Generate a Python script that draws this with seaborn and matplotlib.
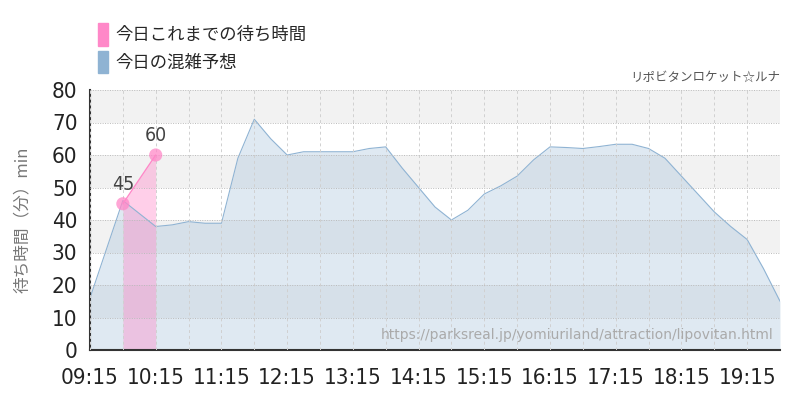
import pandas as pd
import matplotlib
matplotlib.use('Agg')
import matplotlib.pyplot as plt
import matplotlib.dates as mdates
import matplotlib.ticker as mticker
from matplotlib import font_manager
from matplotlib.patches import Patch
import seaborn as sns

# forecast (blue) every 15 minutes
times = ['09:15', '09:30', '09:45', '10:00', '10:15', '10:30', '10:45', '11:00',
         '11:15', '11:30', '11:45', '12:00', '12:15', '12:30', '12:45', '13:00',
         '13:15', '13:30', '13:45', '14:00', '14:15', '14:30', '14:45', '15:00',
         '15:15', '15:30', '15:45', '16:00', '16:15', '16:30', '16:45', '17:00',
         '17:15', '17:30', '17:45', '18:00', '18:15', '18:30', '18:45', '19:00',
         '19:15', '19:30', '19:45']
forecast = [16, 31, 46, 42, 38, 38.5, 39.5, 39,
            39, 59, 71, 65, 60, 61, 61, 61,
            61, 62, 62.5, 56, 50, 44, 40, 43,
            48, 50.5, 53.5, 58.5, 62.5, 62.3, 62, 62.6,
            63.3, 63.3, 62, 59, 53.5, 48, 42.5, 38,
            34, 25, 15]

# today's actual waits (pink)
actual_times = ['09:45', '10:15']
actual = [45, 60]

series_names = ['今日これまでの待ち時間', '今日の混雑予想']
ride_name = 'リポビタンロケット☆ルナ'
y_label = '待ち時間（分）min'
source_url = 'https://parksreal.jp/yomiuriland/attraction/lipovitan.html'

pink = '#ff88c8'
blue = '#8fb3d3'

# look for a condensed face for the numbers
num_prop = None
for f in font_manager.fontManager.ttflist:
    n = (f.name + ' ' + f.fname).lower()
    if ('condensed' in n or 'narrow' in n) and 'bold' not in n and 'italic' not in n \
            and 'oblique' not in n and 'light' not in n:
        num_prop = font_manager.FontProperties(fname=f.fname)
        break
if num_prop is None:
    num_prop = font_manager.FontProperties(family=['Roboto', 'DejaVu Sans'])

day = '2024-01-01 '
fc = pd.DataFrame({'t': pd.to_datetime([day + t for t in times]), 'wait': forecast})
ac = pd.DataFrame({'t': pd.to_datetime([day + t for t in actual_times]), 'wait': actual})

sns.set_style('white')
jp_fonts = ['Noto Sans CJK JP', 'DejaVu Sans']
plt.rcParams['font.family'] = jp_fonts

fig = plt.figure(figsize=(8, 4), dpi=100)
ax = fig.add_axes([0.1125, 0.125, 0.8625, 0.65])

# alternating bands
for lo in [10, 30, 50, 70]:
    ax.axhspan(lo, lo + 10, color='#f2f2f2', zorder=0, lw=0)

ax.fill_between(fc['t'], fc['wait'], 0, color=blue, alpha=0.28, lw=0, zorder=1)
sns.lineplot(data=fc, x='t', y='wait', ax=ax, color=blue, lw=0.8, zorder=2)

ax.fill_between(ac['t'], ac['wait'], 0, color=pink, alpha=0.4, lw=0, zorder=1.5)
sns.lineplot(data=ac, x='t', y='wait', ax=ax, color=pink, lw=1, zorder=3)
sns.scatterplot(data=ac, x='t', y='wait', ax=ax, color=pink, s=90, alpha=0.75,
                edgecolor='none', zorder=4)
for t, v in zip(ac['t'], ac['wait']):
    ax.annotate(str(v), (t, v), xytext=(0, 7), textcoords='offset points',
                ha='center', va='bottom', fontproperties=num_prop, fontsize=14,
                color='#444')

ax.set_xlim(fc['t'].iloc[0], fc['t'].iloc[-1])
ax.set_ylim(0, 80)
ax.yaxis.set_major_locator(mticker.MultipleLocator(10))
ax.xaxis.set_major_locator(mdates.MinuteLocator(byminute=[15]))
ax.xaxis.set_minor_locator(mdates.MinuteLocator(byminute=[45]))
ax.xaxis.set_major_formatter(mdates.DateFormatter('%H:%M'))

ax.set_axisbelow(False)
ax.grid(axis='y', which='major', color='#bbbbbb', ls=(0, (1, 1.5)), lw=0.7)
ax.grid(axis='x', which='both', color='#d0d0d0', ls=(0, (3, 3)), lw=0.7)

for lab in ax.get_xticklabels() + ax.get_yticklabels():
    lab.set_fontproperties(num_prop)
    lab.set_fontsize(16)
    lab.set_color('#222')
ax.tick_params(axis='both', which='major', length=7, color='#bbbbbb', width=1,
               direction='out', pad=2)
ax.tick_params(axis='x', which='major', pad=6)
ax.tick_params(axis='x', which='minor', length=0)

for s in ['top', 'right']:
    ax.spines[s].set_visible(False)
for s in ['left', 'bottom']:
    ax.spines[s].set_color('#333')
    ax.spines[s].set_linewidth(1.5)

ax.set_xlabel('')
ax.set_ylabel(y_label, fontsize=12, color='#777')
ax.yaxis.set_label_coords(-0.085, 0.5)

ax.text(0.99, 0.03, source_url, transform=ax.transAxes, ha='right', va='bottom',
        fontsize=10, color='#aaaaaa', family=['DejaVu Sans'], zorder=5)
fig.text(0.975, 0.79, ride_name, ha='right', va='bottom', fontsize=9,
         color='#555', family=jp_fonts)

handles = [Patch(color=pink), Patch(color=blue)]
fig.legend(handles, series_names, loc='upper left', bbox_to_anchor=(0.108, 0.97),
           frameon=False, fontsize=12.5, handlelength=0.58, handleheight=1.6,
           handletextpad=0.45, labelspacing=0.3, borderaxespad=0.25)

fig.savefig('out.png', dpi=100)
